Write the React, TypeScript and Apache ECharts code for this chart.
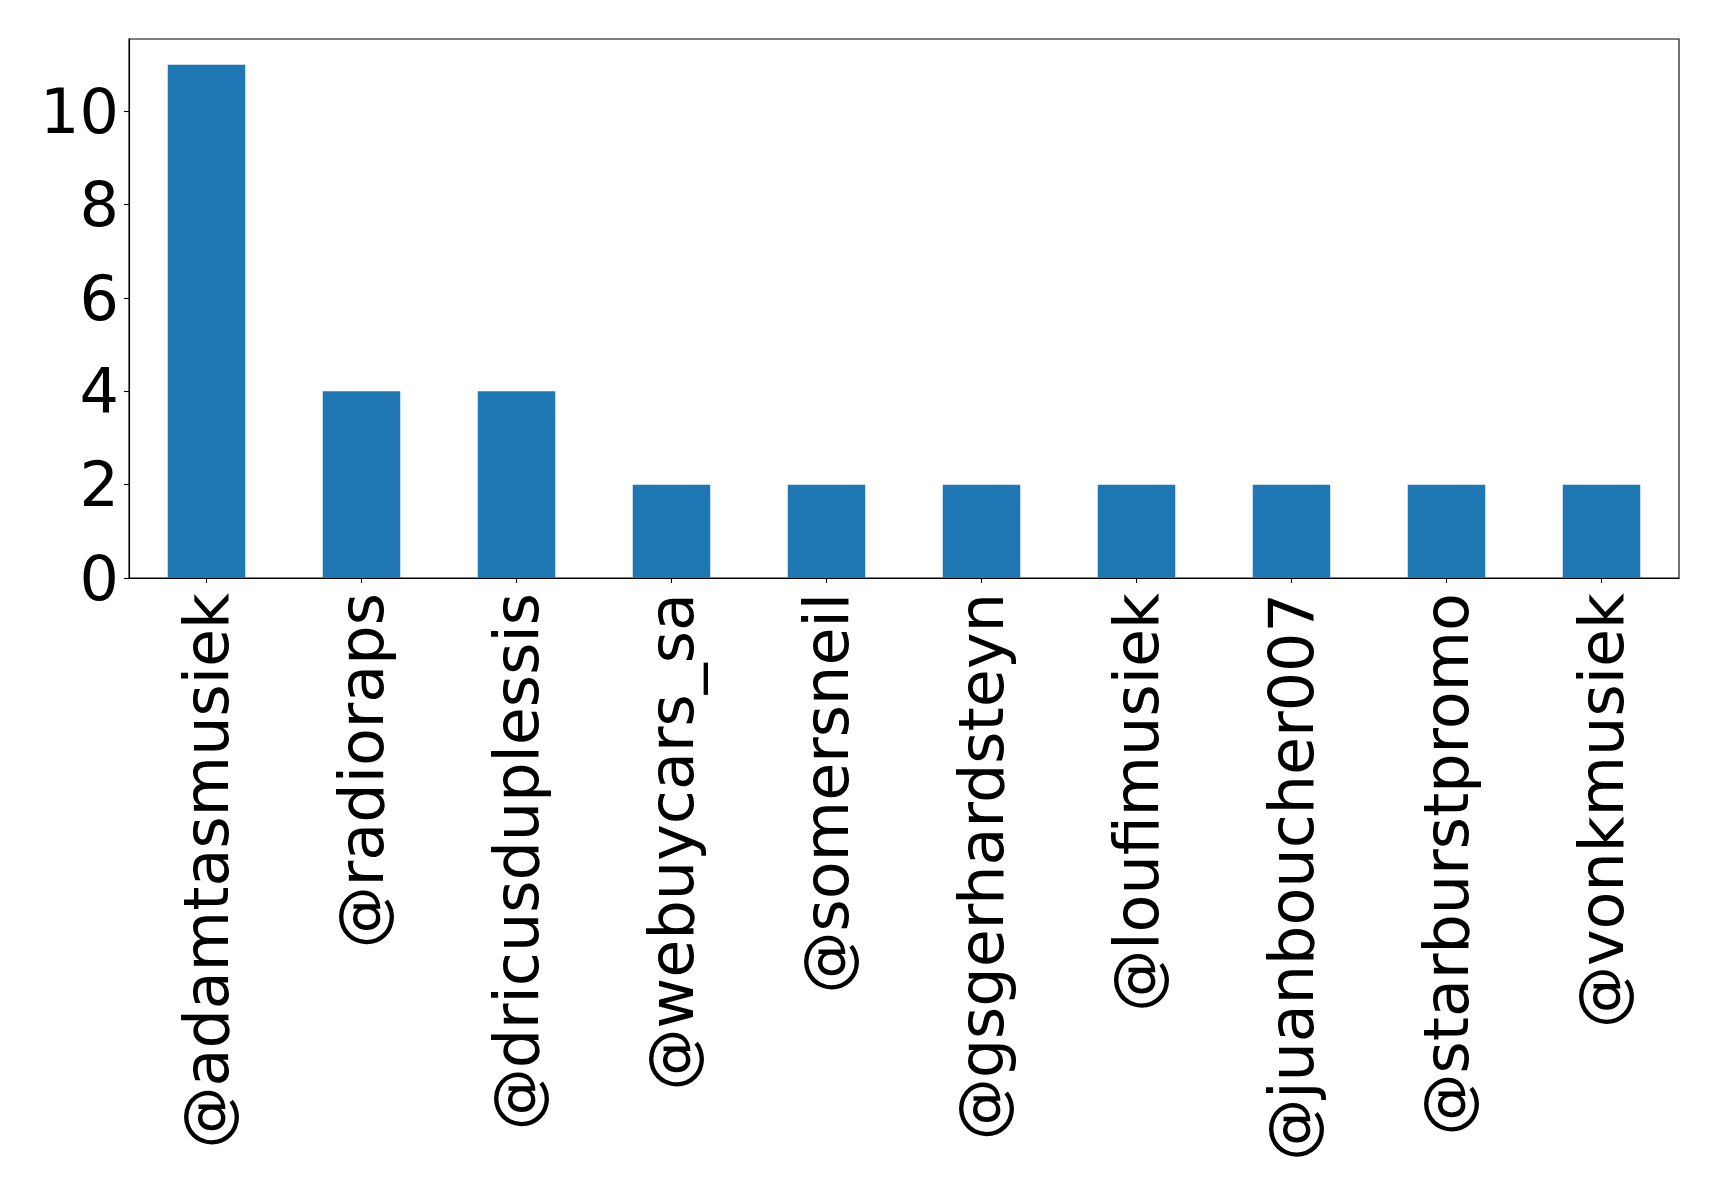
import React, { useEffect, useRef } from "react";
import * as echarts from "echarts";

const categories = [
  "@adamtasmusiek",
  "@radioraps",
  "@dricusduplessis",
  "@webuycars_sa",
  "@somersneil",
  "@gsgerhardsteyn",
  "@loufimusiek",
  "@juanboucher007",
  "@starburstpromo",
  "@vonkmusiek",
];
const counts = [11, 4, 4, 2, 2, 2, 2, 2, 2, 2];
const yTicks = [0, 2, 4, 6, 8, 10];

const FONT = "DejaVu Sans";

export default function App() {
  const ref = useRef<HTMLDivElement>(null);
  useEffect(() => {
    document.body.style.margin = "0";
    const chart = echarts.init(ref.current!, null, { renderer: "svg" });
    chart.setOption({
      animation: false,
      backgroundColor: "#ffffff",
      grid: {
        left: 129,
        top: 39,
        width: 1550,
        height: 539,
        containLabel: false,
        show: true,
        borderColor: "#000000",
        borderWidth: 1.1,
        backgroundColor: "transparent",
      },
      xAxis: {
        type: "category",
        data: categories,
        boundaryGap: true,
        axisLine: { show: true, lineStyle: { color: "#000000", width: 1.1 } },
        axisTick: { show: true, alignWithLabel: true, length: 5, lineStyle: { color: "#000000", width: 1.1 } },
        axisLabel: {
          interval: 0,
          rotate: 90,
          margin: 15,
          fontSize: 62,
          fontFamily: FONT,
          color: "#000000",
        },
        splitLine: { show: false },
      },
      yAxis: {
        type: "value",
        min: 0,
        max: 11.55,
        interval: 2,
        axisLine: { show: true, lineStyle: { color: "#000000", width: 1.1 } },
        axisTick: { show: true, length: 5, customValues: yTicks, lineStyle: { color: "#000000", width: 1.1 } },
        axisLabel: {
          customValues: yTicks,
          margin: 10,
          fontSize: 62,
          fontFamily: FONT,
          color: "#000000",
        },
        splitLine: { show: false },
      },
      series: [
        {
          type: "bar",
          data: counts,
          barWidth: "50%",
          itemStyle: { color: "#1f77b4" },
        },
      ],
    });
    return () => chart.dispose();
  }, []);
  return (
    <div
      ref={ref}
      style={{ position: "absolute", left: 0, top: 0, width: 1719, height: 1200 }}
    />
  );
}
